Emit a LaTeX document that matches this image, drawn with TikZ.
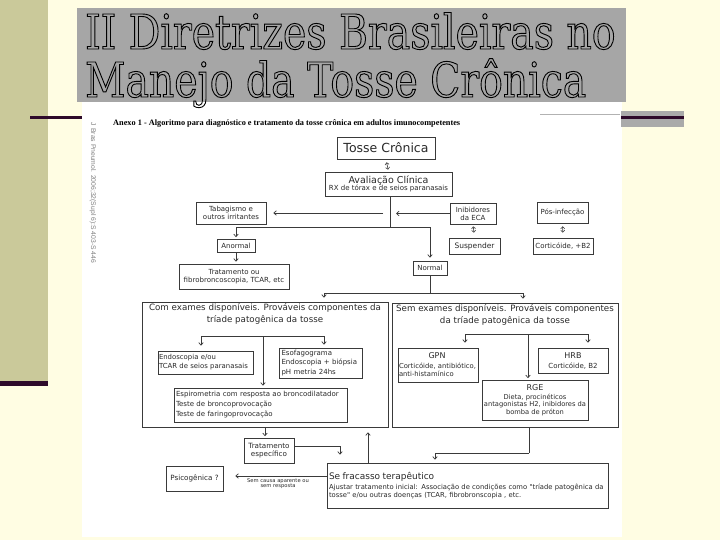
\documentclass[tikz,border=0pt]{standalone}
\usepackage{fontspec}
\usepackage{graphicx}
\usetikzlibrary{arrows.meta}
\newfontfamily\chartfont{DejaVu Sans}
\newfontfamily\titlefont[FakeStretch=0.82]{DejaVu Serif}
\newfontfamily\capfont{Liberation Serif}
\newfontfamily\sidefont{Liberation Sans}
\newcommand\cf[2]{\chartfont\fontsize{#1}{#2}\selectfont}
\newcommand\outlinetext[1]{\special{pdf:literal direct 1 Tr 0.9 w}#1\special{pdf:literal direct 0 Tr}}
\definecolor{bgy}{HTML}{FFFDE3}
\definecolor{khaki}{HTML}{CAC99A}
\definecolor{dkp}{HTML}{2E0A2A}
\definecolor{tgray}{HTML}{A6A6A6}
\definecolor{bandgray}{HTML}{AAAAAA}
\definecolor{linec}{HTML}{3A3A3A}
\definecolor{txtc}{HTML}{2A2A2A}
\begin{document}
\begin{tikzpicture}[x=1pt,y=-1pt,
  box/.style={draw=linec, line width=0.7pt, inner sep=0pt, text=txtc},
  conn/.style={draw=linec, line width=0.7pt},
  arr/.style={conn, -{Straight Barb[length=2.5pt,width=4.5pt]}, shorten >=3pt},
  dbl/.style={conn, line width=0.6pt, {Straight Barb[length=2pt,width=4pt]}-{Straight Barb[length=2pt,width=4pt]}}
]
\path[use as bounding box] (0,0) rectangle (720,540);
% slide background
\fill[bgy] (0,0) rectangle (720,540);
\fill[khaki] (0,0) rectangle (48,381);
\fill[dkp] (0,381) rectangle (48,386);
\fill[tgray] (77,8) rectangle (626,102);
\fill[white] (82,102) rectangle (622,537);
\fill[bandgray] (621,111) rectangle (684,127);
\fill[dkp] (30,116) rectangle (82,119);
\fill[dkp] (621,116) rectangle (684,119);
\draw[gray!60, line width=0.5pt] (540,114) -- (620,114);
% title
\node[anchor=base west, inner sep=0pt, text=black] (title1) at (85,49) {\titlefont\fontsize{48}{48}\selectfont\outlinetext{II Diretrizes Brasileiras no}};
\node[anchor=base west, inner sep=0pt, text=black] (title2) at (85,97) {\titlefont\fontsize{48}{48}\selectfont\outlinetext{Manejo da Tosse Crônica}};
% caption and side text
\node[anchor=west, inner sep=0pt, text=black] (anexo) at (113,123) {\resizebox{347pt}{!}{\capfont\bfseries\fontsize{8}{9}\selectfont Anexo 1 - Algoritmo para diagnóstico e tratamento da tosse crônica em adultos imunocompetentes}};
\node[rotate=-90, inner sep=0pt, text=gray] (side) at (93,193) {\resizebox{140pt}{!}{\sidefont\fontsize{6}{7}\selectfont J Bras Pneumol. 2006;32(Supl 6):S 403-S 446}};
% boxes
\node[box, minimum width=98pt, minimum height=22pt, font=\cf{12.5}{14}] (tosse) at (386,148) {Tosse Crônica};
\node[box, minimum width=127pt, minimum height=24pt, align=center, font=\cf{7}{7}] (aval) at (388.5,184) {{\cf{9.5}{9.5}Avaliação Clínica}\\[-1pt]RX de tórax e de seios paranasais};
\node[box, minimum width=70pt, minimum height=22pt, align=center, font=\cf{7}{8}] (tabag) at (231,213) {Tabagismo e\\outros irritantes};
\node[box, minimum width=46pt, minimum height=21pt, align=center, font=\cf{7}{8}] (inib) at (473,213.5) {Inibidores\\da ECA};
\node[box, minimum width=51pt, minimum height=16pt, font=\cf{7.5}{8}] (susp) at (474.5,246) {Suspender};
\node[box, minimum width=51pt, minimum height=21pt, font=\cf{7}{8}] (pos) at (562.5,212.5) {Pós-infecção};
\node[box, minimum width=60pt, minimum height=16pt, font=\cf{7}{8}] (cort) at (563,246) {Corticóide, +B2};
\node[box, minimum width=38pt, minimum height=13pt, font=\cf{7}{8}] (anormal) at (236,245.5) {Anormal};
\node[box, minimum width=110pt, minimum height=25pt, align=center, font=\cf{7}{8}] (trat) at (234,276.5) {Tratamento ou\\fibrobroncoscopia, TCAR, etc};
\node[box, minimum width=34pt, minimum height=14pt, font=\cf{7}{8}] (normal) at (430,268) {Normal};
% large boxes
\node[box, minimum width=246pt, minimum height=125pt] (com) at (265,364.5) {};
\node[anchor=north, align=center, inner sep=0pt, text=txtc, font=\cf{8.7}{12}] (comt) at (265,303.5) {Com exames disponíveis. Prováveis componentes da\\tríade patogênica da tosse};
\node[box, minimum width=226pt, minimum height=124pt] (sem) at (505,365) {};
\node[anchor=north, align=center, inner sep=0pt, text=txtc, font=\cf{8.7}{12}] (semt) at (505,304) {Sem exames disponíveis. Prováveis componentes\\da tríade patogênica da tosse};
\node[box, minimum width=95pt, minimum height=23pt, align=left, text width=93pt, font=\cf{6.9}{9}] (endo) at (205.5,362.5) {Endoscopia e/ou\\TCAR de seios paranasais};
\node[box, minimum width=83pt, minimum height=30pt, align=left, text width=78pt, font=\cf{7}{9.5}] (esof) at (320.5,363) {Esofagograma\\Endoscopia + biópsia\\pH metria 24hs};
\node[box, minimum width=173pt, minimum height=34pt, align=left, text width=169pt, font=\cf{7}{10}] (espiro) at (260.5,405) {Espirometria com resposta ao broncodilatador\\Teste de broncoprovocação\\Teste de faringoprovocação};
\node[box, minimum width=80pt, minimum height=34pt, align=left, text width=78pt, font=\cf{6.8}{8}] (gpn) at (438,365) {\makebox[76pt]{\cf{8}{9}GPN}\\[2pt]Corticóide, antibiótico,\\anti-histamínico};
\node[box, minimum width=70pt, minimum height=25pt, align=center, font=\cf{7}{8}] (hrb) at (573,360.5) {{\cf{8}{9}HRB}\\[2pt]Corticóide, B2};
\node[box, minimum width=106pt, minimum height=40pt, align=center, font=\cf{6.7}{7.5}] (rge) at (535,400) {{\cf{8}{9}RGE}\\[1.5pt]Dieta, procinéticos\\antagonistas H2, inibidores da\\bomba de próton};
% lower part
\node[box, minimum width=50pt, minimum height=25pt, align=center, font=\cf{7.2}{8.5}] (tratesp) at (269,450.5) {Tratamento\\específico};
\node[box, minimum width=57pt, minimum height=25pt, font=\cf{7.2}{9}] (psico) at (194.5,478.5) {Psicogênica ?};
\node[box, minimum width=281pt, minimum height=45pt, align=left, text width=277pt, font=\cf{6.8}{7.8}] (fracasso) at (467.5,485.5) {{\cf{9}{10}Se fracasso terapêutico}\\[3pt]Ajustar tratamento inicial: Associação de condições como "tríade patogênica da\\tosse" e/ou outras doenças (TCAR, fibrobronscopia , etc.};
\node[align=center, inner sep=0pt, text=txtc, font=\cf{5.2}{5}] (semcausa) at (278,484) {Sem causa aparente ou\\sem resposta};
% connectors
\draw[dbl, shorten <=3pt, shorten >=2pt] (tosse.south) -- (aval.north);
\coordinate (j1) at (390,227);
\draw[conn] (aval.south -| j1) -- (j1);
\draw[arr, shorten >=1.5pt] (j1) -| (anormal.north);
\draw[arr] (j1) -| (normal.north);
\draw[arr, shorten >=7pt] ([xshift=-7pt]j1 |- tabag.east) -- (tabag.east);
\draw[arr, shorten >=6pt] (inib.west) -- (inib.west -| j1);
\draw[dbl, shorten <=2pt, shorten >=5pt] (inib.south) -- (susp.north);
\draw[dbl, shorten <=3pt, shorten >=5pt] (pos.south) -- (cort.north);
\draw[arr, shorten >=2pt] (anormal.south) -- (anormal.south |- trat.north);
\coordinate (j2) at (430,293);
\draw[conn] (normal.south) -- (j2);
\draw[arr, shorten >=4pt] (j2) -| ([xshift=59pt]com.north);
\draw[arr, shorten >=4pt] (j2) -| ([xshift=18pt]sem.north);
\coordinate (j3) at (263,336);
\draw[arr, shorten >=5pt] (j3) -| ([xshift=-4.5pt]endo.north);
\draw[arr, shorten >=3pt] (j3) -| ([xshift=3.5pt]esof.north);
\draw[arr, shorten >=2pt] (j3) -- (j3 |- espiro.north);
\coordinate (j4) at (528,334);
\draw[arr, shorten >=5pt] (j4) -| ([xshift=27pt]gpn.north);
\draw[arr, shorten >=5pt] (j4) -| ([xshift=15pt]hrb.north);
\draw[arr, shorten >=1.5pt] (j4) -- (j4 |- rge.north);
\draw[arr, shorten >=1.5pt] (com.south) -- (com.south |- tratesp.north);
\draw[arr, shorten >=8pt] (tratesp.east |- 0,446) -| ([xshift=-127.5pt]fracasso.north);
\coordinate (j5) at (529,453);
\draw[conn] (sem.south -| j5) -- (j5);
\draw[arr, shorten >=3pt] (j5) -| ([xshift=-32.5pt]fracasso.north);
\draw[arr, shorten >=5pt] ([xshift=-99.5pt]fracasso.north) -- ([xshift=103pt]com.south);
\draw[arr, shorten >=12pt] ([yshift=9.5pt]fracasso.west) -- ([yshift=2.5pt]psico.east);
\end{tikzpicture}
\end{document}
